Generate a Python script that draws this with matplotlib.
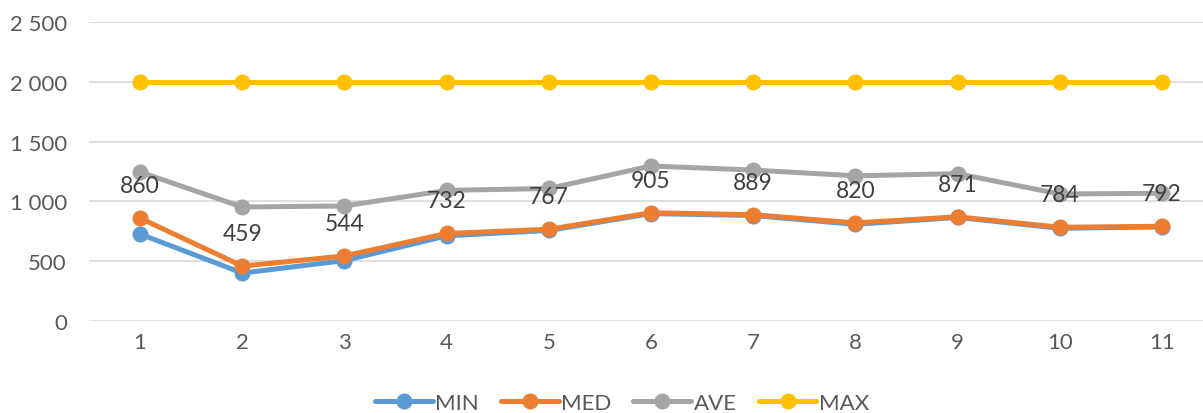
import numpy as np
import matplotlib.pyplot as plt
from matplotlib.ticker import FuncFormatter

# chart data
runs = [1, 2, 3, 4, 5, 6, 7, 8, 9, 10, 11]
min_vals = [727, 401, 505, 712, 757, 898, 882, 808, 866, 775, 787]
med_vals = [860, 459, 544, 732, 767, 905, 889, 820, 871, 784, 792]
ave_vals = [1246, 953, 962, 1092, 1108, 1296, 1262, 1214, 1232, 1062, 1068]
max_vals = [2000, 2000, 2000, 2000, 2000, 2000, 2000, 2000, 2000, 2000, 2000]

series = [("MIN", min_vals, "#5B9BD5"),
          ("MED", med_vals, "#ED7D31"),
          ("AVE", ave_vals, "#A5A5A5"),
          ("MAX", max_vals, "#FFC000")]

plt.rcParams['font.family'] = ['Lato', 'DejaVu Sans']

W, H = 1203, 414
fig = plt.figure(figsize=(W / 100, H / 100), dpi=100)
ax = fig.add_axes([89 / W, (H - 322) / H, (W - 89) / W, 299 / H])

for name, vals, col in series:
    ax.plot(runs, vals, color=col, lw=3.6, marker='o', ms=10.5,
            solid_capstyle='round', label=name)

# data labels for MED, placed above the points
for x, v in zip(runs, med_vals):
    ax.annotate(str(v), (x, v), xytext=(0, 23.5), textcoords='offset points',
                ha='center', va='center', fontsize=16.5, color='#404040', zorder=10)

ax.set_xlim(0.5, 11.5 - 10 / 102.2)
ax.set_ylim(0, 2500)
ax.set_xticks(runs)
ax.set_yticks(np.arange(0, 2501, 500))
ax.yaxis.set_major_formatter(FuncFormatter(lambda v, p: format(int(v), ',').replace(',', ' ')))
ax.tick_params(axis='both', length=0, labelsize=16, labelcolor='#595959')
ax.tick_params(axis='y', pad=16)
ax.tick_params(axis='x', pad=8)
ax.grid(axis='y', color='#D9D9D9', lw=1.2)
ax.set_axisbelow(True)
for s in ax.spines.values():
    s.set_visible(False)

fig.legend(loc='center', bbox_to_anchor=(622 / W, (H - 404) / H), ncol=4, frameon=False,
           fontsize=16, labelcolor='#595959', handlelength=2.6, handletextpad=0.1,
           columnspacing=1.0, borderaxespad=0)

fig.savefig("out.png", dpi=100)
